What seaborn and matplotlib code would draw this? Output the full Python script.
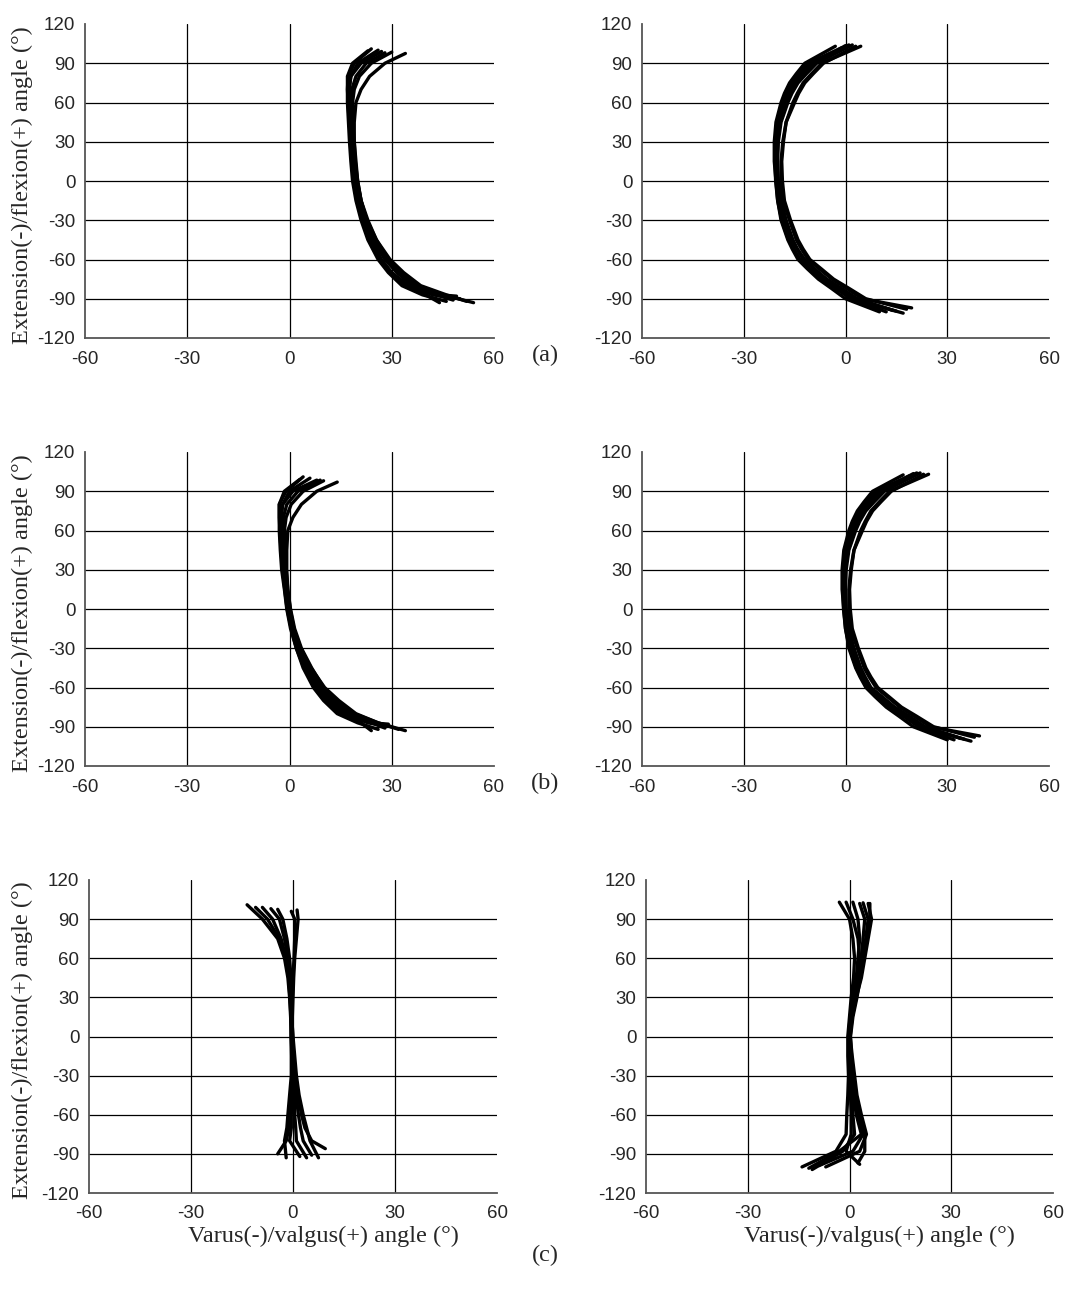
import matplotlib
matplotlib.use("Agg")
import matplotlib.pyplot as plt
import seaborn as sns
import pandas as pd

# axis ticks shared by all six panels
x_ticks = [-60, -30, 0, 30, 60]
y_ticks = [-120, -90, -60, -30, 0, 30, 60, 90, 120]

# (a) left: flexion levels, per-trace tip heights, per-trace x positions
a1_levels = [90, 80, 70, 60, 45, 30, 15, 0, -15, -30, -45, -60, -70, -80, -87]
a1_top = [101, 99, 97.5, 100, 98.5, 99.5, 98]
a1_bot = [-92, -90, -93, -88, -92, -93, -91]
a1_x = [
    [24, 19, 17.2, 17, 17, 17.3, 17.6, 18, 18.5, 19.5, 21, 23, 26, 29, 33, 39, 46],
    [27, 21, 18, 17.5, 17.5, 17.8, 18.2, 18.6, 19.2, 20.3, 22, 24, 27, 30, 35, 42, 50],
    [34, 28, 23.5, 21, 19.5, 19, 19, 19.3, 20, 21, 22.7, 25.5, 29, 32.5, 38, 45, 54],
    [26, 20, 18, 17.5, 17.8, 18.5, 19, 19.5, 20, 21, 22.5, 25, 28.5, 32, 37, 44, 49],
    [30, 24, 20.5, 19, 18.5, 18.5, 18.8, 19.2, 19.8, 21, 23, 25.5, 29.5, 33.5, 38.5, 46, 52],
    [23, 18.5, 17, 17, 17.2, 17.5, 18, 18.4, 19, 20, 21.5, 23.5, 26.5, 30, 34, 40, 44],
    [28, 22.5, 19.5, 18.3, 18, 18, 18.4, 18.8, 19.5, 20.6, 22.3, 24.5, 28, 31.5, 36, 43, 48],
]

# (a) right
a2_levels = [90, 82, 75, 67, 60, 45, 30, 15, 0, -15, -30, -45, -52, -60, -67, -75, -82, -90]
a2_top = [104, 103, 103, 104, 102, 103, 103.5]
a2_bot = [-101, -97, -100, -99, -100, -98, -99.5]
a2_x = [
    [1, -10, -13.2, -15.5, -17.2, -18.5, -20, -20.5, -20.5, -20.3, -19.8, -18.5, -16.5, -15.2, -13.5, -10.7, -7, -2.8, 2, 17],
    [4.5, -7, -10, -12.5, -14.2, -15.5, -17.5, -18.5, -19, -19, -18.5, -16.5, -14.5, -13, -11, -7.8, -4, 0.3, 5, 19.5],
    [-3, -12, -14.5, -16.5, -18, -19, -20.5, -21, -21, -20.5, -20, -19, -17, -15.7, -14, -11.3, -8, -4.2, 0, 10],
    [2, -8.5, -11.5, -14, -15.8, -17, -19, -19.8, -20, -19.8, -19, -17.5, -15.5, -14.2, -12.5, -9.2, -5.5, -1.2, 3.5, 14],
    [-1, -11, -13.8, -16, -17.5, -18.5, -20, -20.5, -20.8, -20.6, -20, -18.8, -16.8, -15.3, -13.5, -10.5, -7, -2.8, 1.5, 12],
    [3, -6.5, -9.5, -12, -13.8, -15, -17.5, -18.3, -18.8, -18.6, -18, -16.2, -14, -12.5, -10.5, -7.2, -3.5, 1, 6, 18],
    [0, -9, -12.2, -14.8, -16.5, -17.8, -19.5, -20, -20.2, -20, -19.3, -17.8, -15.8, -14.2, -12, -9.2, -6, -1.8, 2.5, 15],
]

# (b) left
b1_levels = [90, 80, 70, 60, 45, 30, 15, 0, -15, -30, -45, -60, -70, -80, -87]
b1_top = [101, 98.5, 97, 100, 98, 99, 98.5]
b1_bot = [-92, -90, -93, -88, -92, -93, -91]
b1_x = [
    [4, -1, -3, -3, -3, -2.7, -2.3, -1.5, -0.8, 0.3, 2, 4, 7, 10, 14, 20, 26],
    [8, 1, -2, -2.5, -2.5, -2.2, -1.8, -1.2, -0.5, 0.8, 2.5, 5, 8, 11, 16, 23, 30],
    [14, 8, 3.5, 1, -0.5, -0.8, -0.8, -0.5, 0.3, 1.5, 3.5, 6.5, 10, 13.5, 19, 26, 34],
    [6, 0, -2, -2.5, -2.2, -1.5, -1, -0.5, 0.2, 1.3, 3, 5.8, 9.3, 13, 18, 24, 29],
    [10, 4, 0.5, -1, -1.5, -1.5, -1.2, -0.8, -0.1, 1.2, 3.3, 6.3, 10.3, 14.5, 19.5, 26, 32],
    [3, -1.5, -3, -3, -2.8, -2.5, -2, -1.4, -0.7, 0.5, 2, 4.3, 7.5, 11, 15, 21, 24],
    [9, 2.5, -0.8, -1.8, -2, -1.9, -1.5, -1, -0.3, 1, 2.8, 5.4, 8.7, 12, 17, 24, 28],
]

# (b) right
b2_levels = [90, 82, 75, 67, 60, 45, 30, 15, 0, -15, -30, -45, -52, -60, -67, -75, -82, -90]
b2_top = [104, 103, 102.5, 104, 102, 103, 103.5]
b2_bot = [-101, -97, -100, -99, -100, -98, -99.5]
b2_x = [
    [21, 10, 6.8, 4.5, 2.8, 1.5, 0, -0.5, -0.5, -0.3, 0.3, 1.5, 3.5, 4.8, 6.5, 9.5, 13, 17.3, 22, 37],
    [24.5, 13, 10, 7.5, 5.8, 4.5, 2.5, 1.5, 1, 1, 1.5, 3.5, 5.5, 7, 9, 12.3, 16, 20.3, 25, 39.5],
    [17, 8, 5.5, 3.5, 2, 1, -0.5, -1, -1, -0.5, 0, 1, 3, 4.3, 6, 8.7, 12, 15.8, 20, 30],
    [22, 11.5, 8.5, 6, 4.2, 3, 1, 0.2, 0, 0.2, 1, 2.5, 4.5, 5.8, 7.5, 10.8, 14.5, 18.8, 23.5, 34],
    [19, 9, 6.2, 4, 2.5, 1.5, 0, -0.5, -0.8, -0.6, 0, 1.2, 3.2, 4.7, 6.5, 9.5, 13, 17.2, 21.5, 32],
    [23, 13.5, 10.5, 8, 6.2, 5, 2.5, 1.7, 1.2, 1.4, 2, 3.8, 6, 7.5, 9.5, 12.8, 16.5, 21, 26, 38],
    [20, 10.5, 7.6, 5.2, 3.5, 2.3, 0.5, -0.2, -0.3, 0, 0.7, 2, 4, 5.4, 7, 10.3, 14, 18.3, 23, 35],
]

# (c) left
c1_levels = [90, 75, 60, 45, 30, 15, 0, -15, -30, -45, -60, -70, -80]
c1_top = [101, 99, 97, 98, 96, 99, 97.5]
c1_bot = [-90, -93, -86, -93, -93, -92, -91]
c1_x = [
    [-13.5, -9, -4.5, -2.5, -1.5, -1, -0.7, -0.5, -0.3, -0.2, -0.5, -1, -1.2, -2, -4.5],
    [-9, -6, -3.5, -2, -1.2, -0.8, -0.5, -0.3, 0, 0.3, 0.5, 0.5, 0.8, 1, 4],
    [1.2, 1.5, 1, 0.5, 0.2, 0, -0.2, -0.3, 0.2, 0.8, 1.5, 2.5, 3.5, 5.5, 9.5],
    [-6.5, -4, -2.5, -1.5, -1, -0.6, -0.4, 0, 0.5, 1, 1.8, 3, 4, 5, 7.5],
    [-0.5, 0.5, 0.5, 0.3, 0, -0.2, -0.5, -0.6, -0.5, -0.5, -1, -1.5, -1.8, -2.5, -2],
    [-11, -7.5, -4, -2.2, -1.3, -0.9, -0.6, -0.4, -0.2, 0, -0.2, -0.5, -0.5, -1, 2],
    [-4.5, -3, -1.8, -1, -0.6, -0.4, -0.3, -0.1, 0.2, 0.5, 0.9, 1.6, 2.2, 3, 5.5],
]

# (c) right
c2_levels = [90, 75, 60, 45, 30, 15, 0, -15, -30, -45, -60, -75, -88]
c2_top = [103, 102, 103, 102, 103, 102, 102.5]
c2_bot = [-100, -97, -102, -100, -98, -101, -99]
c2_x = [
    [-3, 0, 1, 1.5, 1.2, 0.5, 0, -0.5, -0.5, -0.3, -0.5, -0.8, -1, -4, -14],
    [5.5, 6.5, 5.5, 4.5, 3.5, 2, 0.8, 0, 0.5, 1, 1.5, 2.5, 4.5, 4.5, 2.5],
    [-1, 1, 2.5, 3, 2.5, 1.5, 0.5, 0, 0.2, 0.5, 0.8, 1, 1.5, -2, -11],
    [3, 4.5, 4, 3.5, 2.8, 1.8, 0.8, 0.2, 0.8, 1.5, 2.2, 3.5, 5, 3, -7],
    [1, 2.5, 3, 2.5, 2, 1, 0.2, -0.3, 0, 0.2, 0.3, 0.5, 0.5, -1, 3],
    [6, 6, 5, 4, 3, 1.8, 0.6, -0.2, 0.3, 0.8, 1.2, 2, 3.5, -3, -12],
    [4, 5.5, 4.8, 4, 3.2, 2.2, 1, 0.3, 0.6, 1.2, 1.8, 2.8, 4, 1, -9],
]

panels = [
    (a1_levels, a1_top, a1_bot, a1_x),
    (a2_levels, a2_top, a2_bot, a2_x),
    (b1_levels, b1_top, b1_bot, b1_x),
    (b2_levels, b2_top, b2_bot, b2_x),
    (c1_levels, c1_top, c1_bot, c1_x),
    (c2_levels, c2_top, c2_bot, c2_x),
]

# axes boxes in pixels: left, right, top, bottom
W, H = 1090, 1308
boxes = [
    (85, 494, 24, 338), (642, 1049, 24, 338),
    (85, 494, 452, 766), (642, 1049, 452, 766),
    (89, 497, 880, 1193), (646, 1053, 880, 1193),
]

sns.set_style("white")
plt.rcParams["font.family"] = ["Liberation Sans", "DejaVu Sans"]
plt.rcParams["axes.unicode_minus"] = False
serif = ["Liberation Serif", "DejaVu Serif"]

fig = plt.figure(figsize=(W / 100, H / 100), dpi=100)

for i, ((levels, top, bot, xs), (l, r, t, b)) in enumerate(zip(panels, boxes)):
    ax = fig.add_axes([l / W, 1 - b / H, (r - l) / W, (b - t) / H])

    rows = []
    for k, xv in enumerate(xs):
        yv = [top[k]] + levels + [bot[k]]
        for xx, yy in zip(xv, yv):
            rows.append({"x": xx, "y": yy, "trace": k})
    df = pd.DataFrame(rows)

    for v in x_ticks[1:-1]:
        ax.axvline(v, color="black", lw=0.9, zorder=1)
    for v in y_ticks[1:-1]:
        ax.axhline(v, color="black", lw=0.9, zorder=1)

    sns.lineplot(data=df, x="x", y="y", units="trace", estimator=None,
                 sort=False, color="black", lw=2.4, ax=ax, zorder=3,
                 solid_joinstyle="round", solid_capstyle="round")

    ax.set_xlim(-60, 60)
    ax.set_ylim(-120, 120)
    ax.set_xticks(x_ticks)
    ax.set_yticks(y_ticks)
    ax.tick_params(axis="both", direction="out", length=5, width=1,
                   color="#555555", labelsize=13.5)
    ax.tick_params(axis="y", pad=2)
    ax.tick_params(axis="x", pad=4)
    for s in ["top", "right"]:
        ax.spines[s].set_visible(False)
    for s in ["left", "bottom"]:
        ax.spines[s].set_color("#555555")
        ax.spines[s].set_linewidth(1.3)
    ax.set_xlabel("")
    ax.set_ylabel("")

    if i % 2 == 0:
        fig.text(22 / W, 1 - ((t + b) / 2 + 4) / H,
                 "Extension(-)/flexion(+) angle (°)", rotation=90,
                 ha="center", va="center", fontsize=17.5, family=serif)
    if i >= 4:
        fig.text(((l + r) / 2 + 30) / W, 1 - 1236 / H,
                 "Varus(-)/valgus(+) angle (°)",
                 ha="center", va="center", fontsize=17.5, family=serif)

for lab, yp in [("(a)", 355), ("(b)", 783), ("(c)", 1255)]:
    fig.text(545 / W, 1 - yp / H, lab, ha="center", va="center",
             fontsize=17.5, family=serif)

fig.savefig("out.png", dpi=100)
